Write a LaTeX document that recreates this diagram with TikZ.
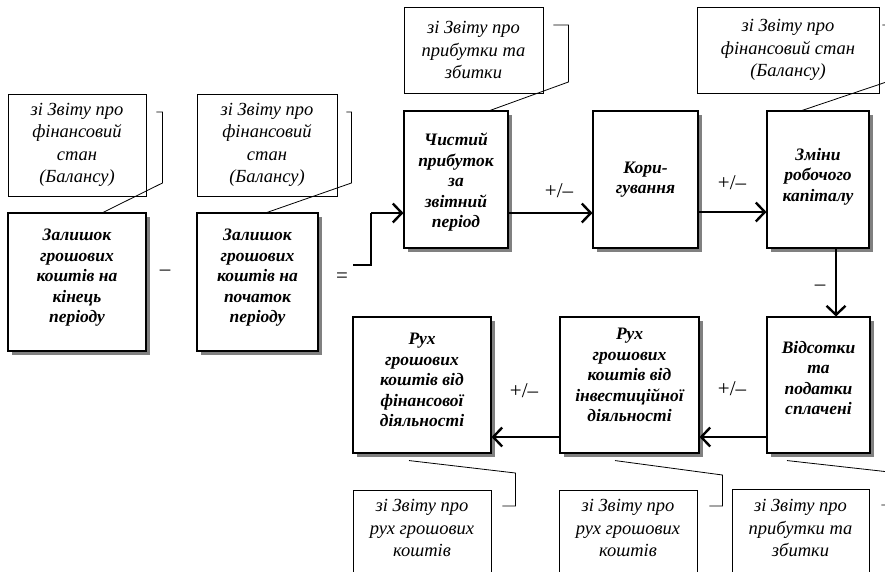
\documentclass[tikz,border=0pt]{standalone}
\usepackage{fontspec}
\setmainfont{Liberation Serif}
\usetikzlibrary{calc,arrows.meta,shadows}

\tikzset{
  mainbox/.style={draw, line width=1.1pt, fill=white, inner sep=0pt,
    general shadow={fill=black!50, shadow xshift=4pt, shadow yshift=-4pt}},
  boxtext/.style={align=center, inner sep=0pt,
    font=\bfseries\itshape\fontsize{17.5}{20.5}\selectfont},
  note/.style={draw, line width=0.8pt, fill=white, inner sep=0pt, align=center,
    font=\itshape\fontsize{18.5}{22.5}\selectfont},
  notetext/.style={inner sep=0pt, align=center,
    font=\itshape\fontsize{18.5}{22.5}\selectfont},
  lead/.style={line width=0.8pt},
  link/.style={line width=1.5pt},
  arr/.style={line width=2.4pt, -{Straight Barb[length=9pt,width=19pt,line width=2.4pt]}},
  sign/.style={inner sep=0pt, font=\fontsize{21}{24}\selectfont}
}

\begin{document}
\begin{tikzpicture}[x=1pt, y=-1pt]
  \useasboundingbox (0,0) rectangle (885,571);
  \fill[white] (0,0) rectangle (885,571);
  \clip (0,0) rectangle (885,571);

  % main boxes
  \node[mainbox, minimum width=138pt, minimum height=138pt] (b1) at (77,282) {};
  \node[mainbox, minimum width=121pt, minimum height=138pt] (b2) at (257.5,282) {};
  \node[mainbox, minimum width=104pt, minimum height=137pt] (b3) at (456,179.5) {};
  \node[mainbox, minimum width=105pt, minimum height=137pt] (b4) at (645.5,179.5) {};
  \node[mainbox, minimum width=102pt, minimum height=137pt] (b5) at (818,179.5) {};
  \node[mainbox, minimum width=103pt, minimum height=136pt] (b6) at (818.5,385) {};
  \node[mainbox, minimum width=139pt, minimum height=136pt] (b7) at (629.5,385) {};
  \node[mainbox, minimum width=138pt, minimum height=136pt] (b8) at (422,385) {};

  % box captions
  \node[boxtext, yshift=4pt] (t1) at (b1) {Залишок\\грошових\\коштів на\\кінець\\періоду};
  \node[boxtext, yshift=4pt] (t2) at (b2) {Залишок\\грошових\\коштів на\\початок\\періоду};
  \node[boxtext, yshift=-3pt] (t3) at (b3) {Чистий\\прибуток\\за\\звітний\\період};
  \node[boxtext] (t4) at (b4) {Кори-\\гування};
  \node[boxtext, yshift=3pt] (t5) at (b5) {Зміни\\робочого\\капіталу};
  \node[boxtext, yshift=7pt] (t6) at (b6) {Відсотки\\та\\податки\\сплачені};
  \node[boxtext, yshift=10pt] (t7) at (b7) {Рух\\грошових\\коштів від\\інвестиційної\\діяльності};
  \node[boxtext, yshift=5pt] (t8) at (b8) {Рух\\грошових\\коштів від\\фінансової\\діяльності};

  % source notes
  \node[note, minimum width=138pt, minimum height=102pt] (c1) at (77,145) {зі Звіту про\\фінансовий\\стан\\(Балансу)};
  \node[note, minimum width=140pt, minimum height=102pt] (c2) at (267,145) {зі Звіту про\\фінансовий\\стан\\(Балансу)};
  \node[note, minimum width=139pt, minimum height=86pt] (c3) at (473.5,50) {зі Звіту про\\прибутки та\\збитки};
  \node[note, minimum width=182pt, minimum height=86pt] (c5) at (788,50) {зі Звіту про\\фінансовий стан\\(Балансу)};
  \node[note, minimum width=138pt, minimum height=88pt] (c6) at (422,534) {};
  \node[note, minimum width=138pt, minimum height=88pt] (c7) at (628,534) {};
  \node[note, minimum width=137pt, minimum height=88pt] (c8) at (800.5,533) {};
  \node[notetext, yshift=6pt] (n6) at (c6) {зі Звіту про\\рух грошових\\коштів};
  \node[notetext, yshift=6pt] (n7) at (c7) {зі Звіту про\\рух грошових\\коштів};
  \node[notetext, yshift=5pt] (n8) at (c8) {зі Звіту про\\прибутки та\\збитки};

  % leader lines from the notes to the boxes
  \draw[lead] ($(c1.east)+(10,-33)$) -- ++(6,0) -- ++(0,71) -- ($(b1.north)+(26,0)$);
  \draw[lead] ($(c2.east)+(9,-33)$) -- ++(5,0) -- ++(0,71) -- ($(b2.north)+(9.5,0)$);
  \draw[lead] ($(c3.east)+(10,-25)$) -- ++(15,0) -- ++(0,57) -- ($(b3.north)+(34,0)$);
  \draw[lead] ($(c5.east)+(3,-25)$) -- ++(4,0) -- ++(0,57) -- ($(b5.north)+(-16,0)$);
  \draw[lead] ($(c6.east)+(11,-28)$) -- ++(13,0) -- ++(0,-33) -- ($(b8.south)+(-13,7)$);
  \draw[lead] ($(c7.east)+(12,-28)$) -- ++(13,0) -- ++(0,-31) -- ($(b7.south)+(-14.5,7)$);
  \draw[lead] ($(c8.east)+(12,-28)$) -- ++(8,0) -- ++(0,-33) -- ($(b6.south)+(-31.5,7)$);

  % flow
  \coordinate (eq) at (353,265);
  \coordinate (j) at (371,213);
  \draw[link] (eq) -| (j);
  \draw[arr] (j) -- (j -| b3.west);
  \draw[arr] ($(b3.east)+(0,33.5)$) -- ($(b4.west)+(0,33.5)$);
  \draw[arr] ($(b4.east)+(0,32.5)$) -- ($(b5.west)+(0,32.5)$);
  \draw[arr] ($(b5.south)+(18,0)$) -- ($(b6.north)+(17.5,0)$);
  \draw[arr] ($(b6.west)+(0,52)$) -- ($(b7.east)+(0,52)$);
  \draw[arr] ($(b7.west)+(0,52)$) -- ($(b8.east)+(0,52)$);

  % operation signs
  \node[sign] (s1) at (165,273) {–};
  \node[sign] (s2) at (342,278) {=};
  \node[sign] (s3) at (559,191) {+/–};
  \node[sign] (s4) at (732,183) {+/–};
  \node[sign] (s5) at (820,288) {–};
  \node[sign] (s6) at (732,389) {+/–};
  \node[sign] (s7) at (524,391) {+/–};
\end{tikzpicture}
\end{document}
